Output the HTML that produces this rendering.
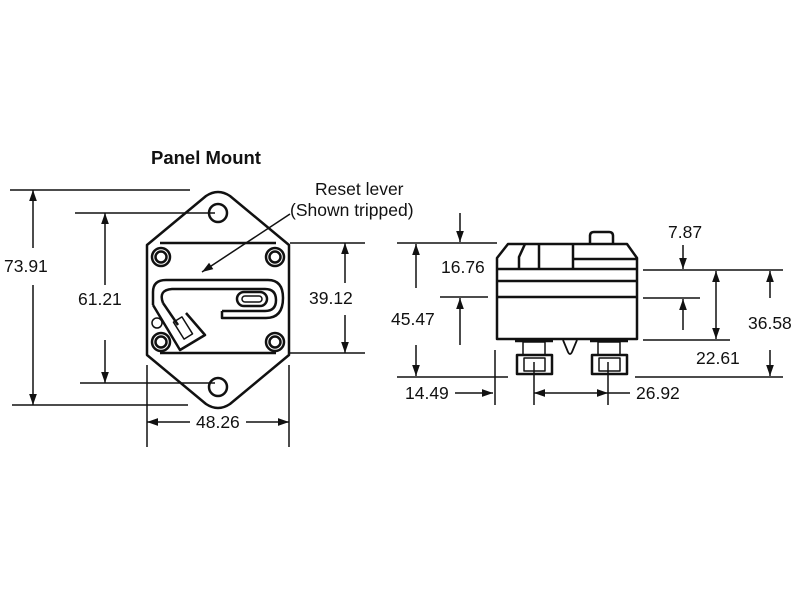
<!DOCTYPE html>
<html><head><style>body{margin:0;background:#fff}svg{display:block}text{font-family:"Liberation Sans",sans-serif;font-size:17.5px;fill:#111}</style></head>
<body>
<svg width="800" height="600" viewBox="0 0 800 600" xmlns="http://www.w3.org/2000/svg">
<defs>
<marker id="a" viewBox="0 0 10 10" refX="10" refY="5" markerWidth="13" markerHeight="11" orient="auto-start-reverse" markerUnits="userSpaceOnUse"><path d="M0,1.5 L10,5 L0,8.5 Z" fill="#111"/></marker>
</defs>
<text x="151" y="164" style="font-weight:bold;font-size:18.5px">Panel Mount</text>
<g stroke="#111" stroke-width="1.5" fill="none">
<line x1="10" y1="190" x2="190" y2="190"/>
<line x1="75" y1="213" x2="215" y2="213"/>
<line x1="80" y1="383" x2="215" y2="383"/>
<line x1="12" y1="405" x2="188" y2="405"/>
<line x1="33" y1="248" x2="33" y2="190" marker-end="url(#a)"/>
<line x1="33" y1="285" x2="33" y2="405" marker-end="url(#a)"/>
<line x1="105" y1="285" x2="105" y2="213" marker-end="url(#a)"/>
<line x1="105" y1="340" x2="105" y2="383" marker-end="url(#a)"/>
<line x1="290" y1="243" x2="365" y2="243"/>
<line x1="290" y1="353" x2="365" y2="353"/>
<line x1="345" y1="283" x2="345" y2="243" marker-end="url(#a)"/>
<line x1="345" y1="315" x2="345" y2="353" marker-end="url(#a)"/>
<line x1="147" y1="365" x2="147" y2="447"/>
<line x1="289" y1="365" x2="289" y2="447"/>
<line x1="190" y1="422" x2="147" y2="422" marker-end="url(#a)"/>
<line x1="246" y1="422" x2="289" y2="422" marker-end="url(#a)"/>
<line x1="290" y1="214" x2="202" y2="272" marker-end="url(#a)"/>
</g>
<g stroke="#111" stroke-width="2.5" fill="none" stroke-linejoin="round">
<path d="M206,196 Q218,188 230,196 L289,245 L289,355 L230,404 Q218,412 206,404 L147,355 L147,245 Z"/>
<line x1="160" y1="243" x2="276" y2="243"/>
<line x1="160" y1="353" x2="276" y2="353"/>
<circle cx="218" cy="213" r="9"/>
<circle cx="218" cy="387" r="9"/>
<circle cx="161" cy="257" r="9"/><circle cx="161" cy="257" r="5.5"/>
<circle cx="161" cy="342" r="9"/><circle cx="161" cy="342" r="5.5"/>
<circle cx="275" cy="257" r="9"/><circle cx="275" cy="257" r="5.5"/>
<circle cx="275" cy="342" r="9"/><circle cx="275" cy="342" r="5.5"/>
<path d="M153,305 L153,292 Q153,280 166,280 L268,280 Q283,280 283,298 Q283,318 266,318 L222,318 L222,311"/>
<path d="M163,303 Q158,290 172,289 L265,289 Q276,289 276,300 Q276,311 265,311 L222,311"/>
<path d="M153,305 L180,350 L205,335 L186,313"/>
<path d="M163,303 L178,325"/>
<rect x="237" y="292" width="30" height="14" rx="7"/>
<rect x="242" y="296" width="20" height="6" rx="3" stroke-width="1.5"/>
<rect x="178" y="318" width="10" height="20" transform="rotate(-32 183 328)" stroke-width="1.5"/>
<circle cx="157" cy="323" r="5" stroke-width="1.5"/>
</g>
<text x="315" y="195">Reset lever</text>
<text x="290" y="216">(Shown tripped)</text>
<text x="4" y="272">73.91</text>
<text x="78" y="305">61.21</text>
<text x="309" y="304">39.12</text>
<text x="196" y="428">48.26</text>
<g stroke="#111" stroke-width="1.5" fill="none">
<line x1="397" y1="243" x2="497" y2="243"/>
<line x1="440" y1="297" x2="488" y2="297"/>
<line x1="397" y1="377" x2="508" y2="377"/>
<line x1="460" y1="213" x2="460" y2="242" marker-end="url(#a)"/>
<line x1="460" y1="345" x2="460" y2="298" marker-end="url(#a)"/>
<line x1="416" y1="288" x2="416" y2="244" marker-end="url(#a)"/>
<line x1="416" y1="345" x2="416" y2="376" marker-end="url(#a)"/>
<line x1="495" y1="350" x2="495" y2="405"/>
<line x1="455" y1="393" x2="493" y2="393" marker-end="url(#a)"/>
<line x1="534" y1="362" x2="534" y2="405"/>
<line x1="608" y1="362" x2="608" y2="405"/>
<line x1="534" y1="393" x2="608" y2="393" marker-start="url(#a)" marker-end="url(#a)"/>
<line x1="608" y1="393" x2="630" y2="393"/>
<line x1="643" y1="270" x2="783" y2="270"/>
<line x1="643" y1="298" x2="700" y2="298"/>
<line x1="643" y1="340" x2="730" y2="340"/>
<line x1="635" y1="377" x2="783" y2="377"/>
<line x1="683" y1="245" x2="683" y2="269" marker-end="url(#a)"/>
<line x1="683" y1="330" x2="683" y2="299" marker-end="url(#a)"/>
<line x1="716" y1="271" x2="716" y2="339" marker-start="url(#a)" marker-end="url(#a)"/>
<line x1="770" y1="298" x2="770" y2="271" marker-end="url(#a)"/>
<line x1="770" y1="350" x2="770" y2="376" marker-end="url(#a)"/>
</g>
<g stroke="#111" stroke-width="2.5" fill="none" stroke-linejoin="round">
<path d="M497,339 L497,258 L508,244 L627,244 L637,258 L637,339 Z"/>
<line x1="497" y1="269" x2="637" y2="269"/>
<line x1="497" y1="281" x2="637" y2="281"/>
<line x1="497" y1="297" x2="637" y2="297"/>
<path d="M519,269 L519,257 L525,244"/>
<line x1="539" y1="244" x2="539" y2="269"/>
<line x1="573" y1="244" x2="573" y2="269"/>
<line x1="573" y1="259" x2="637" y2="259"/>
<path d="M590,244 L590,236 Q590,232 594,232 L609,232 Q613,232 613,236 L613,244"/>
<line x1="515" y1="341" x2="553" y2="341"/>
<line x1="590" y1="341" x2="628" y2="341"/>
<rect x="523" y="342" width="22" height="13" stroke-width="1.5"/>
<rect x="598" y="342" width="22" height="13" stroke-width="1.5"/>
<rect x="517" y="355" width="35" height="19"/>
<rect x="524" y="358" width="21" height="13" stroke-width="1.5"/>
<rect x="592" y="355" width="35" height="19"/>
<rect x="599" y="358" width="21" height="13" stroke-width="1.5"/>
<path d="M563,340 L568,352 Q570,356 572,352 L577,340" stroke-width="1.8"/>
</g>
<text x="441" y="273">16.76</text>
<text x="391" y="325">45.47</text>
<text x="405" y="399">14.49</text>
<text x="636" y="399">26.92</text>
<text x="668" y="238">7.87</text>
<text x="696" y="364">22.61</text>
<text x="748" y="329">36.58</text>
</svg>
</body></html>
